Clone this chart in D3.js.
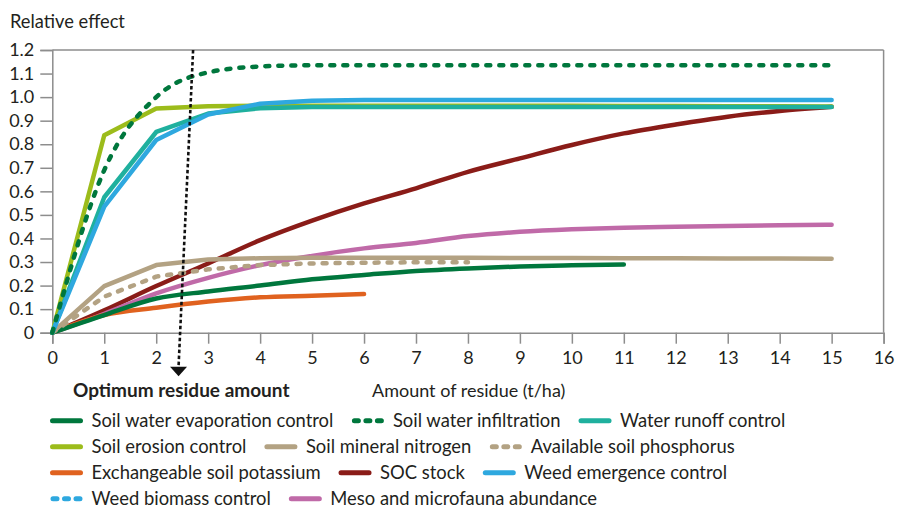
<!DOCTYPE html>
<html>
<head>
<meta charset="utf-8">
<script src="https://cdn.jsdelivr.net/npm/d3@7"></script>
<style>
  html, body { margin: 0; padding: 0; background: #fff; }
  svg { display: block; }
  text { font-family: Lato, "Open Sans", Roboto, sans-serif; fill: #231f20; }
</style>
</head>
<body>
<svg id="chart" width="900" height="528"></svg>
<script>
// ---------- data ----------
const xTicks = [0,1,2,3,4,5,6,7,8,9,10,11,12,13,14,15,16];
const yTicks = [0,0.1,0.2,0.3,0.4,0.5,0.6,0.7,0.8,0.9,1.0,1.1,1.2];
const yTickLabels = ["0","0.1","0.2","0.3","0.4","0.5","0.6","0.7","0.8","0.9","1.0","1.1","1.2"];

const seriesNames = [
  "Soil water evaporation control", "Soil water infiltration", "Water runoff control",
  "Soil erosion control", "Soil mineral nitrogen", "Available soil phosphorus",
  "Exchangeable soil potassium", "SOC stock", "Weed emergence control",
  "Weed biomass control", "Meso and microfauna abundance"
];
const seriesColors = ["#00773d","#00773d","#1fb09e","#9cbc1b","#b3a283","#b3a283",
                      "#e0621f","#8a1c18","#2ea8df","#2ea8df","#c06aa8"];
const seriesDashed = [false,true,false,false,false,true,false,false,false,true,false];
const seriesSmooth = [true,true,false,false,false,false,true,true,false,false,true];

const evaporation = [0,0.075,0.145,0.175,0.2,0.227,0.245,0.262,0.273,0.281,0.286,0.29];
const infiltration = [0,0.69,1.0,1.105,1.13,1.135,1.135,1.135,1.135,1.135,1.135,1.135,1.135,1.135,1.135,1.135];
const runoff = [0,0.575,0.852,0.93,0.953,0.958,0.958,0.958,0.958,0.958,0.958,0.958,0.958,0.958,0.958,0.958];
const erosion = [0,0.838,0.952,0.961,0.963,0.963,0.963,0.963,0.963,0.963,0.963,0.962,0.962,0.961,0.961,0.960];
const nitrogen = [0,0.198,0.287,0.311,0.316,0.318,0.318,0.318,0.318,0.317,0.317,0.316,0.316,0.315,0.315,0.314];
const phosphorus = [0,0.153,0.238,0.269,0.287,0.294,0.297,0.299,0.299];
const potassium = [0,0.075,0.106,0.132,0.15,0.157,0.164];
const socStock = [0,0.095,0.198,0.294,0.393,0.476,0.549,0.613,0.683,0.74,0.797,0.846,0.884,0.917,0.941,0.959];
const weedEmergence = [0,0.535,0.818,0.926,0.972,0.985,0.988,0.988,0.988,0.988,0.988,0.988,0.988,0.988,0.988,0.988];
const weedBiomass = [];
const fauna = [0,0.08,0.167,0.233,0.287,0.326,0.358,0.381,0.41,0.428,0.439,0.446,0.45,0.453,0.456,0.458];

const seriesValues = [evaporation, infiltration, runoff, erosion, nitrogen, phosphorus,
                      potassium, socStock, weedEmergence, weedBiomass, fauna];
// draw order (back to front)
const drawOrder = [7,10,6,0,5,4,3,2,8,9,1];

// optimum residue arrow (x, y) in data units
const arrowTop = [2.71, 1.2];
const arrowBottom = [2.43, -0.145];

// ---------- layout ----------
const svg = d3.select("#chart");
const x = d3.scaleLinear().domain([0,16]).range([52.3, 883.6]);
const y = d3.scaleLinear().domain([0,1.2]).range([332.7, 50]);
const frameColor = "#8d8d8d";

// frame (top & right)
svg.append("line").attr("x1", x(0)).attr("x2", x(16)).attr("y1", y(1.2)).attr("y2", y(1.2))
  .attr("stroke", frameColor).attr("stroke-width", 1.5);
svg.append("line").attr("x1", x(16)).attr("x2", x(16)).attr("y1", y(1.2)).attr("y2", y(0))
  .attr("stroke", frameColor).attr("stroke-width", 1.5);

// y axis
const yAxis = d3.axisLeft(y).tickValues(yTicks).tickSize(12).tickPadding(6)
  .tickFormat((d,i) => yTickLabels[i]);
const gy = svg.append("g").attr("transform", `translate(${x(0)},0)`).call(yAxis);
gy.select(".domain").attr("stroke", frameColor).attr("stroke-width", 1.5);
gy.selectAll(".tick line").attr("stroke", frameColor).attr("stroke-width", 1.5);
gy.selectAll(".tick text").style("font-size", "18px").style("font-family", "Lato, sans-serif").attr("fill", "#231f20");

// x axis
const xAxis = d3.axisBottom(x).tickValues(xTicks).tickSize(11).tickPadding(8).tickFormat(d3.format("d"));
const gx = svg.append("g").attr("transform", `translate(0,${y(0)})`).call(xAxis);
gx.select(".domain").attr("stroke", frameColor).attr("stroke-width", 1.5);
gx.selectAll(".tick line").attr("stroke", frameColor).attr("stroke-width", 1.5);
gx.selectAll(".tick text").style("font-size", "18px").style("font-family", "Lato, sans-serif").attr("fill", "#231f20");

// axis title
svg.append("text").attr("x", 10).attr("y", 28).style("font-size", "18.3px").text("Relative effect");

// lines
const lineSmooth = d3.line().x((d,i) => x(i)).y(d => y(d)).curve(d3.curveMonotoneX);
const lineStraight = d3.line().x((d,i) => x(i)).y(d => y(d)).curve(d3.curveLinear);
drawOrder.forEach(k => {
  const vals = seriesValues[k];
  if (!vals.length) return;
  svg.append("path").datum(vals)
    .attr("d", seriesSmooth[k] ? lineSmooth : lineStraight)
    .attr("fill", "none")
    .attr("stroke", seriesColors[k])
    .attr("stroke-width", 4.5)
    .attr("stroke-linecap", "round")
    .attr("stroke-linejoin", "round")
    .attr("stroke-dasharray", seriesDashed[k] ? "4,9" : null);
});

// optimum arrow
const ax1 = x(arrowTop[0]), ay1 = y(arrowTop[1]);
const ax2 = x(arrowBottom[0]), ay2 = y(arrowBottom[1]);
svg.append("line").attr("x1", ax1).attr("y1", ay1).attr("x2", ax2).attr("y2", ay2)
  .attr("stroke", "#111").attr("stroke-width", 2.6).attr("stroke-dasharray", "3.5,2.5");
svg.append("path")
  .attr("d", `M${ax2-8.5},${ay2} L${ax2+8.5},${ay2} L${ax2},${ay2+9.5} Z`)
  .attr("fill", "#111");

svg.append("text").attr("x", 73).attr("y", 397).style("font-size", "19px").style("font-weight", "bold")
  .text("Optimum residue amount");
svg.append("text").attr("x", 372).attr("y", 397).style("font-size", "18px")
  .text("Amount of residue (t/ha)");

// legend (flow layout)
const legendRows = [[0,1,2],[3,4,5],[6,7,8],[9,10]];
const legendX0 = 50, legendY0 = 420.7, rowGap = 26, swW = 33, swGap = 8.5, itemGap = 18;
legendRows.forEach((row, r) => {
  let cx = legendX0;
  const cy = legendY0 + r * rowGap;
  row.forEach(k => {
    const g = svg.append("g");
    if (seriesDashed[k]) {
      g.append("line").attr("x1", cx + 3).attr("x2", cx + swW).attr("y1", cy).attr("y2", cy)
        .attr("stroke", seriesColors[k]).attr("stroke-width", 5).attr("stroke-linecap", "round")
        .attr("stroke-dasharray", "4,7.5");
    } else {
      g.append("line").attr("x1", cx + 2.5).attr("x2", cx + swW - 2.5).attr("y1", cy).attr("y2", cy)
        .attr("stroke", seriesColors[k]).attr("stroke-width", 5).attr("stroke-linecap", "round");
    }
    const t = g.append("text").attr("x", cx + swW + swGap).attr("y", cy + 6)
      .style("font-size", "18.4px").text(seriesNames[k]);
    const w = t.node().getComputedTextLength();
    cx = cx + swW + swGap + w + itemGap;
  });
});
</script>
</body>
</html>
